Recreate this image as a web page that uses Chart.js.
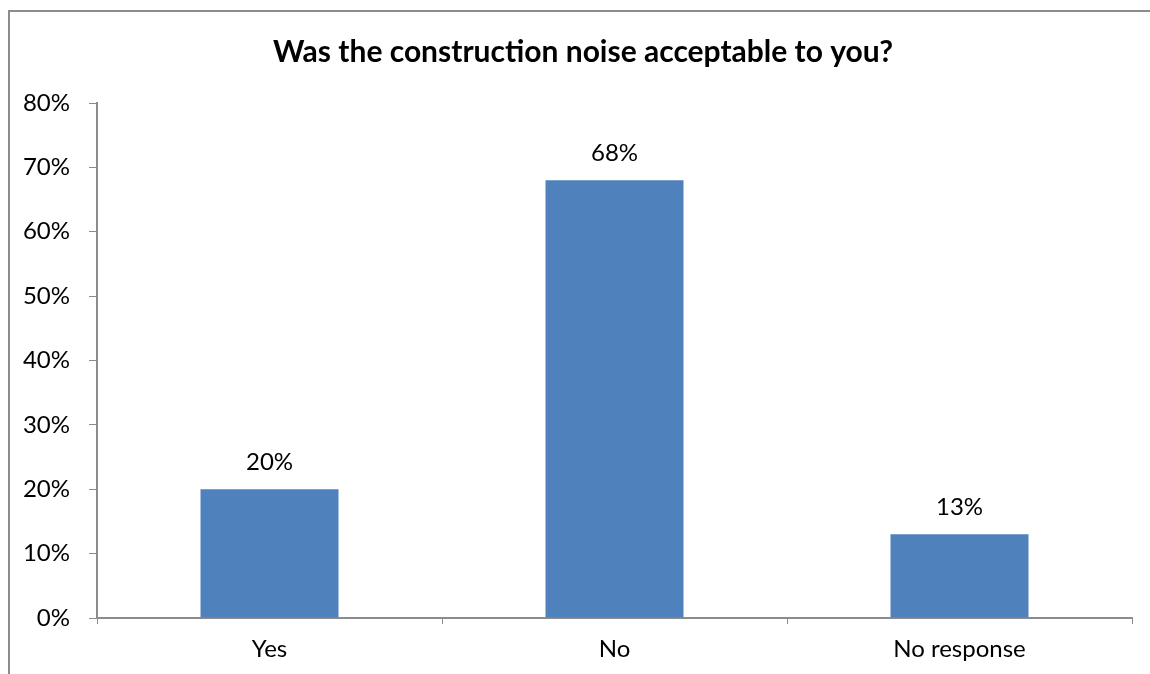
<!DOCTYPE html>
<html>
<head>
<meta charset="utf-8">
<script src="https://cdn.jsdelivr.net/npm/chart.js@4.4.0/dist/chart.umd.min.js"></script>
<style>
  html, body { margin: 0; padding: 0; background: #fff; }
  #wrap { position: relative; width: 1150px; height: 674px; overflow: hidden; }
  #frame { position: absolute; left: 8px; top: 10px; width: 1200px; height: 700px;
           border-left: 2px solid #8c8c8c; border-top: 2px solid #8c8c8c; }
  canvas { position: absolute; left: 0; top: 0; }
</style>
</head>
<body>
<div id="wrap">
  <div id="frame"></div>
  <canvas id="grafico" width="1150" height="674"></canvas>
</div>
<script>
// dados do gráfico
var categorias = ['Yes', 'No', 'No response'];
var valores = [20, 68, 13];
var titulo = 'Was the construction noise acceptable to you?';

var fonte = 'Lato';

// título centrado no quadro (não só no canvas)
var tituloQuadro = {
  id: 'tituloQuadro',
  afterDraw: function (chart) {
    var ctx = chart.ctx;
    ctx.save();
    ctx.font = 'bold 30px ' + fonte;
    ctx.fillStyle = '#000';
    ctx.textAlign = 'center';
    ctx.textBaseline = 'alphabetic';
    ctx.fillText(titulo, 583, 62);
    ctx.restore();
  }
};

// rótulos em cima das barras
var rotulosBarras = {
  id: 'rotulosBarras',
  afterDatasetsDraw: function (chart) {
    var ctx = chart.ctx;
    var meta = chart.getDatasetMeta(0);
    ctx.save();
    ctx.font = '24px ' + fonte;
    ctx.fillStyle = '#000';
    ctx.textAlign = 'center';
    ctx.textBaseline = 'alphabetic';
    meta.data.forEach(function (barra, i) {
      ctx.fillText(valores[i] + '%', barra.x, barra.y - 19);
    });
    ctx.restore();
  }
};

var ctx = document.getElementById('grafico').getContext('2d');
var myChart = new Chart(ctx, {
  type: 'bar',
  data: {
    labels: categorias,
    datasets: [
      {
        data: valores,
        backgroundColor: '#4f81bd',
        categoryPercentage: 0.4,
        barPercentage: 1.0,
      },
    ],
  },
  options: {
    responsive: false,
    animation: false,
    layout: { padding: { left: 0, right: 18, top: 103, bottom: 0 } },
    plugins: {
      legend: { display: false },
      tooltip: { enabled: false },
      title: { display: false },
    },
    scales: {
      x: {
        grid: { display: true, drawOnChartArea: false, tickLength: 6, color: '#8c8c8c', offset: true },
        border: { color: '#8c8c8c', width: 2 },
        ticks: { color: '#000', font: { family: fonte, size: 24 }, padding: 11 },
        afterFit: function (escala) { escala.height = 56; },
      },
      y: {
        min: 0,
        max: 80,
        grid: { display: true, drawOnChartArea: false, tickLength: 8, color: '#8c8c8c' },
        border: { color: '#8c8c8c', width: 2 },
        ticks: {
          stepSize: 10,
          color: '#000',
          font: { family: fonte, size: 24 },
          padding: 19,
          callback: function (v) { return v + '%'; },
        },
        afterFit: function (escala) { escala.width = 97; },
      },
    },
  },
  plugins: [rotulosBarras, tituloQuadro],
});
</script>
</body>
</html>
